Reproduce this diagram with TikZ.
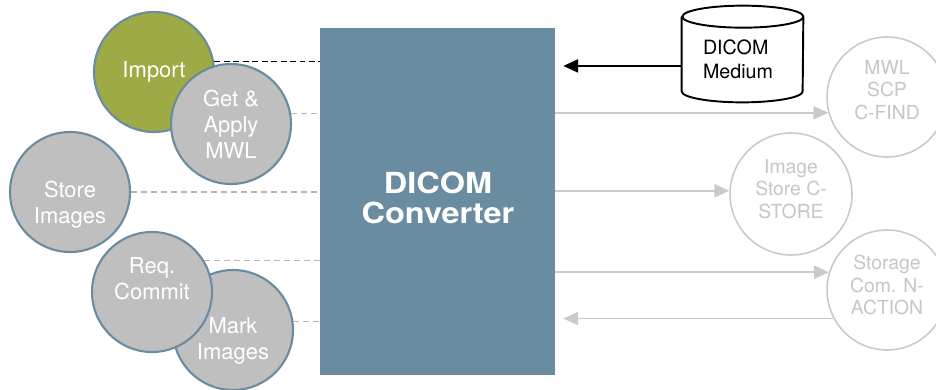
\documentclass[tikz,border=0pt]{standalone}
\usepackage{fontspec}
\setmainfont{TeX Gyre Heros}
\newfontfamily\wideheros[FakeStretch=1.12]{TeX Gyre Heros}
\usepackage{tikz}
\usetikzlibrary{arrows.meta}
\usetikzlibrary{positioning}
\definecolor{convblue}{HTML}{6A8CA0}
\definecolor{importgreen}{HTML}{9EAA45}
\definecolor{circgray}{HTML}{BFBFBF}
\definecolor{faintgray}{HTML}{CACACA}
\definecolor{faintext}{HTML}{C6C6C6}
\definecolor{dashgray}{HTML}{B5B5B5}
\tikzset{taskcirc/.style = {circle, draw=convblue, line width=1.2pt, fill=circgray, minimum size=2.4cm, inner sep=0pt, text=white, align=center, font=\fontsize{12.5}{14.7}\selectfont}}
\tikzset{tasktext/.style = {text=white, align=center, font=\fontsize{12.5}{14.7}\selectfont}}
\tikzset{peercirc/.style = {circle, draw=faintgray, line width=0.9pt, fill=white, minimum size=2.4cm, inner sep=0pt}}
\tikzset{peertext/.style = {text=faintext, align=center, font=\fontsize{11}{12.8}\selectfont}}
\tikzset{darkdash/.style = {draw=black, line width=0.9pt, dash pattern=on 3.4pt off 2pt}}
\tikzset{lightdash/.style = {draw=dashgray, line width=0.8pt, dash pattern=on 3.4pt off 2.3pt}}
\tikzset{peerarrow/.style = {draw=faintgray, line width=1pt, -{Triangle[length=8.5pt,width=7.5pt]}}}
\tikzset{mediumarrow/.style = {draw=black, line width=1.1pt, -{Triangle[length=8.5pt,width=7.5pt]}}}

\begin{document}
\begin{tikzpicture}[x=0.02cm, y=-0.02cm]
        \useasboundingbox (0,0) rectangle (936,389);
        \clip (0,0) rectangle (936,389);
        % converter block
        \node[fill=convblue, minimum width=4.7cm, minimum height=6.94cm, inner sep=0pt] (conv) at (437.5,201.5) {};
        \node[text=white, align=center, font=\wideheros\bfseries\fontsize{16.5}{17.2}\selectfont] (convtxt) at (438,198) {DICOM\\Converter};
        % tasks on the left
        \node[taskcirc, fill=importgreen] (imp) at (154,72) {Import};
        \node[taskcirc] (getmwl) at (231,124) {Get \&\\Apply\\MWL};
        \node[taskcirc] (store) at (70,192) {};
        \node[tasktext] (storetxt) at (70,205) {Store\\Images};
        \node[taskcirc] (mark) at (233,330) {};
        \node[tasktext] (marktxt) at (233,341) {Mark\\Images};
        \node[taskcirc] (commit) at (152,292) {};
        \node[tasktext] (committxt) at (152,279) {Req.\\Commit};
        \draw[lightdash] (mark.8) -- (mark.8 -| conv.west);
        \draw[lightdash] (commit.31) -- (commit.31 -| conv.west);
        \draw[lightdash] (store.east) -- (store.east -| conv.west);
        \draw[lightdash] (getmwl.10) -- (getmwl.10 -| conv.west);
        \draw[darkdash] (imp.10) -- (imp.10 -| conv.west);
        % medium
        \node[minimum width=2.42cm, minimum height=1.48cm, inner sep=0pt] (med) at (742.5,54) {};
        \draw[fill=white, line width=1.1pt] (med.north west) -- (med.south west) arc[start angle=180, end angle=360, x radius=1.21cm, y radius=0.22cm] -- (med.north east) arc[start angle=0, end angle=180, x radius=1.21cm, y radius=0.22cm] arc[start angle=180, end angle=360, x radius=1.21cm, y radius=0.22cm];
        \node[align=left, font=\fontsize{11.2}{13.6}\selectfont] (medtxt) at (738,59) {DICOM\\Medium};
        \draw[mediumarrow, shorten >=4.5pt] ([yshift=-6.8pt]med.west) -- ([yshift=-6.8pt]med.west -| conv.east);
        % peers on the right
        \node[peercirc] (mwl) at (887,97) {};
        \node[peertext] (mwltxt) at (887,90) {MWL\\SCP\\C-FIND};
        \node[peercirc, minimum size=2.44cm] (imgstore) at (791,194) {};
        \node[peertext] (imgstoretxt) at (791,189) {Image\\Store C-\\STORE};
        \node[peercirc] (stcom) at (887,290) {};
        \node[peertext] (stcomtxt) at (887,285) {Storage\\Com. N-\\ACTION};
        \draw[peerarrow] (mwl.195 -| conv.east) -- (mwl.195);
        \draw[peerarrow] (imgstore.177 -| conv.east) -- (imgstore.177);
        \draw[peerarrow] (stcom.163 -| conv.east) -- (stcom.163);
        \draw[peerarrow, shorten >=4.5pt] (stcom.208) -- (stcom.208 -| conv.east);
    \end{tikzpicture}
\end{document}
